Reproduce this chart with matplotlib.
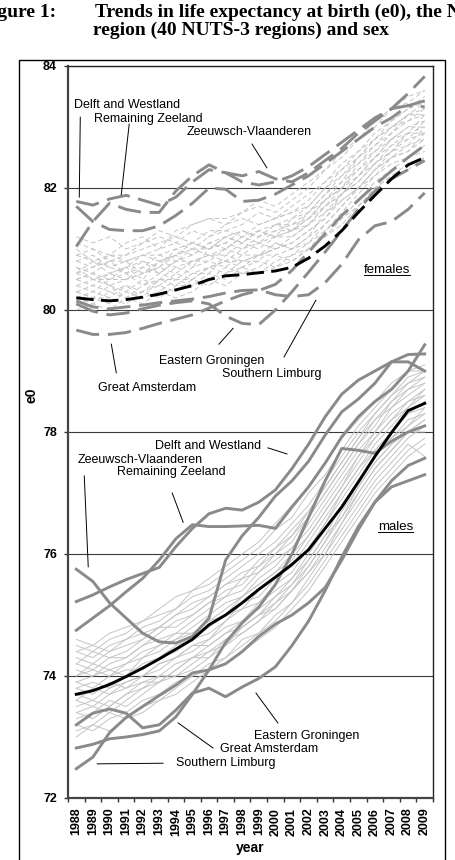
import matplotlib.pyplot as plt
import numpy as np
from matplotlib.patches import Rectangle
from matplotlib.lines import Line2D

plt.rcParams['font.family'] = ['Liberation Sans', 'DejaVu Sans']

years = [str(y) for y in range(1988, 2010)]

# e0 averages for the Netherlands
female_mean = [80.20, 80.17, 80.15, 80.17, 80.21, 80.26, 80.33, 80.40, 80.50, 80.56, 80.58,
               80.61, 80.64, 80.70, 80.85, 81.05, 81.30, 81.60, 81.88, 82.15, 82.38, 82.50]
male_mean = [73.70, 73.76, 73.86, 73.99, 74.13, 74.28, 74.44, 74.60, 74.84, 75.00, 75.20,
             75.42, 75.62, 75.83, 76.07, 76.42, 76.77, 77.18, 77.60, 77.99, 78.35, 78.47]

# highlighted regions, females
f_delft = [81.78, 81.72, 81.82, 81.88, 81.80, 81.72, 81.85, 82.10, 82.30, 82.25, 82.10,
           82.05, 82.10, 82.20, 82.35, 82.55, 82.75, 82.95, 83.15, 83.30, 83.35, 83.33]
f_rem_zeeland = [81.70, 81.45, 81.32, 81.30, 81.30, 81.38, 81.55, 81.75, 82.00, 81.98, 81.78,
                 81.80, 81.90, 82.05, 82.20, 82.40, 82.60, 82.80, 83.00, 83.15, 83.35, 83.43]
f_zv = [81.04, 81.45, 81.75, 81.65, 81.60, 81.60, 81.95, 82.20, 82.38, 82.25, 82.20,
        82.27, 82.15, 82.10, 82.25, 82.45, 82.65, 82.90, 83.10, 83.30, 83.55, 83.83]
f_east_gron = [80.10, 79.98, 79.92, 79.95, 80.02, 80.08, 80.12, 80.15, 80.10, 79.90, 79.78,
               79.76, 80.00, 80.30, 80.62, 80.95, 81.30, 81.65, 81.95, 82.15, 82.30, 82.45]
f_south_limb = [80.15, 80.05, 80.02, 80.05, 80.08, 80.12, 80.15, 80.18, 80.22, 80.28, 80.32,
                80.33, 80.25, 80.22, 80.25, 80.45, 80.75, 81.15, 81.38, 81.45, 81.65, 81.92]
f_great_ams = [79.67, 79.60, 79.60, 79.63, 79.70, 79.78, 79.85, 79.92, 80.03, 80.15, 80.25,
               80.32, 80.42, 80.65, 80.95, 81.25, 81.55, 81.80, 82.05, 82.28, 82.50, 82.70]

# highlighted regions, males
m_delft = [75.22, 75.33, 75.46, 75.58, 75.68, 75.78, 76.12, 76.42, 76.66, 76.75, 76.72,
           76.85, 77.05, 77.40, 77.80, 78.25, 78.62, 78.85, 79.00, 79.15, 79.27, 79.28]
m_rem_zeeland = [74.75, 74.95, 75.15, 75.38, 75.60, 75.90, 76.25, 76.48, 76.45, 76.45, 76.46,
                 76.47, 76.42, 76.77, 77.10, 77.49, 77.92, 78.25, 78.50, 78.70, 79.00, 79.43]
m_zv = [75.75, 75.55, 75.20, 74.95, 74.70, 74.56, 74.54, 74.65, 74.95, 75.90, 76.30,
        76.60, 76.95, 77.20, 77.52, 77.95, 78.33, 78.54, 78.80, 79.15, 79.15, 79.00]
m_east_gron = [73.20, 73.39, 73.46, 73.39, 73.15, 73.20, 73.44, 73.72, 73.80, 73.66, 73.82,
               73.96, 74.15, 74.50, 74.90, 75.40, 75.95, 76.45, 76.85, 77.10, 77.20, 77.30]
m_south_limb = [72.48, 72.67, 73.07, 73.32, 73.50, 73.68, 73.85, 74.05, 74.10, 74.20, 74.40,
                74.65, 74.85, 75.00, 75.20, 75.45, 75.90, 76.40, 76.85, 77.20, 77.45, 77.57]
m_great_ams = [72.82, 72.88, 72.97, 73.00, 73.04, 73.10, 73.33, 73.70, 74.10, 74.55, 74.87,
               75.13, 75.50, 76.00, 76.60, 77.20, 77.73, 77.70, 77.65, 77.85, 78.00, 78.10]

female_highlight = [f_delft, f_rem_zeeland, f_zv, f_east_gron, f_south_limb, f_great_ams]
male_highlight = [m_delft, m_rem_zeeland, m_zv, m_east_gron, m_south_limb, m_great_ams]

# remaining NUTS-3 regions (light grey)
female_other = [
    [80.9, 80.8, 80.7, 80.8, 80.9, 80.9, 81.0, 81.1, 81.0, 81.2, 81.3, 81.2, 81.4, 81.5, 81.6, 81.9, 82.2, 82.5, 82.8, 83.0, 83.2, 83.4],
    [80.5, 80.6, 80.4, 80.5, 80.6, 80.7, 80.6, 80.8, 80.9, 80.8, 81.0, 81.1, 81.0, 81.2, 81.4, 81.7, 81.9, 82.2, 82.5, 82.7, 82.9, 83.0],
    [80.3, 80.2, 80.4, 80.3, 80.5, 80.4, 80.6, 80.5, 80.7, 80.8, 80.7, 80.9, 81.0, 81.1, 81.3, 81.5, 81.9, 82.1, 82.4, 82.6, 82.8, 82.9],
    [81.1, 81.0, 80.9, 81.1, 81.2, 81.0, 81.3, 81.4, 81.5, 81.4, 81.6, 81.7, 81.6, 81.8, 82.0, 82.3, 82.5, 82.8, 83.0, 83.3, 83.4, 83.6],
    [80.7, 80.5, 80.6, 80.7, 80.5, 80.8, 80.9, 80.7, 81.0, 81.1, 81.0, 81.2, 81.3, 81.4, 81.5, 81.8, 82.1, 82.3, 82.6, 82.9, 83.1, 83.2],
    [80.2, 80.3, 80.2, 80.1, 80.3, 80.4, 80.3, 80.5, 80.4, 80.6, 80.7, 80.6, 80.8, 80.9, 81.0, 81.3, 81.6, 81.9, 82.2, 82.4, 82.5, 82.7],
    [80.6, 80.7, 80.8, 80.6, 80.7, 80.9, 80.8, 80.9, 81.1, 81.0, 81.2, 81.3, 81.2, 81.3, 81.6, 81.8, 82.0, 82.4, 82.6, 82.8, 83.0, 83.1],
    [80.4, 80.3, 80.5, 80.6, 80.4, 80.5, 80.7, 80.6, 80.6, 80.9, 80.8, 80.8, 81.1, 81.0, 81.2, 81.6, 81.8, 82.0, 82.3, 82.5, 82.7, 82.8],
    [81.0, 80.8, 80.9, 80.9, 81.1, 81.2, 81.1, 81.3, 81.2, 81.4, 81.5, 81.4, 81.5, 81.7, 81.9, 82.1, 82.4, 82.6, 82.9, 83.1, 83.3, 83.4],
    [80.8, 80.9, 80.7, 80.6, 80.8, 80.7, 81.0, 80.9, 81.1, 81.2, 81.1, 81.3, 81.2, 81.5, 81.7, 82.0, 82.2, 82.4, 82.7, 83.0, 83.2, 83.3],
    [80.3, 80.4, 80.3, 80.4, 80.2, 80.5, 80.4, 80.6, 80.7, 80.6, 80.8, 80.9, 80.9, 81.0, 81.1, 81.4, 81.7, 82.0, 82.3, 82.5, 82.6, 82.9],
    [80.6, 80.5, 80.5, 80.7, 80.8, 80.6, 80.8, 81.0, 80.9, 81.0, 81.2, 81.1, 81.3, 81.3, 81.5, 81.7, 82.0, 82.3, 82.5, 82.8, 83.0, 83.0],
    [80.1, 80.2, 80.1, 80.3, 80.2, 80.3, 80.5, 80.4, 80.6, 80.5, 80.7, 80.8, 80.7, 80.9, 81.1, 81.3, 81.5, 81.8, 82.1, 82.3, 82.5, 82.6],
    [80.9, 81.0, 80.8, 80.9, 81.0, 81.1, 81.2, 81.1, 81.3, 81.3, 81.4, 81.6, 81.5, 81.6, 81.8, 82.1, 82.3, 82.6, 82.8, 83.1, 83.3, 83.5],
    [80.5, 80.4, 80.6, 80.5, 80.6, 80.8, 80.7, 80.8, 80.8, 81.0, 80.9, 81.1, 81.2, 81.2, 81.4, 81.6, 81.9, 82.1, 82.4, 82.7, 82.8, 83.1],
    [80.7, 80.6, 80.8, 80.8, 80.6, 80.7, 80.9, 81.0, 81.0, 81.1, 81.3, 81.2, 81.4, 81.4, 81.6, 81.9, 82.1, 82.5, 82.7, 82.9, 83.2, 83.2],
    [80.4, 80.5, 80.4, 80.2, 80.4, 80.6, 80.5, 80.7, 80.8, 80.7, 80.9, 80.9, 81.0, 81.1, 81.3, 81.5, 81.8, 82.0, 82.3, 82.6, 82.7, 83.0],
    [80.2, 80.1, 80.3, 80.2, 80.3, 80.2, 80.4, 80.4, 80.5, 80.7, 80.6, 80.7, 80.9, 80.8, 81.0, 81.2, 81.5, 81.7, 82.0, 82.2, 82.4, 82.5],
    [81.2, 81.1, 81.2, 81.0, 81.1, 81.3, 81.2, 81.4, 81.5, 81.5, 81.6, 81.8, 81.7, 81.9, 82.1, 82.3, 82.6, 82.8, 83.1, 83.3, 83.5, 83.6],
    [80.6, 80.8, 80.6, 80.7, 80.9, 80.8, 80.9, 81.1, 81.0, 81.2, 81.1, 81.3, 81.4, 81.3, 81.5, 81.8, 82.0, 82.2, 82.5, 82.8, 82.9, 83.2],
    [80.3, 80.2, 80.2, 80.4, 80.3, 80.5, 80.5, 80.5, 80.7, 80.8, 80.8, 80.9, 81.1, 81.0, 81.2, 81.4, 81.7, 82.0, 82.2, 82.5, 82.6, 82.8],
    [80.8, 80.7, 80.9, 80.8, 80.9, 81.0, 81.1, 81.0, 81.2, 81.3, 81.2, 81.4, 81.5, 81.6, 81.7, 82.0, 82.3, 82.5, 82.8, 83.0, 83.1, 83.3],
    [80.5, 80.6, 80.5, 80.5, 80.7, 80.6, 80.8, 80.8, 80.9, 80.9, 81.1, 81.0, 81.2, 81.3, 81.4, 81.7, 81.9, 82.2, 82.4, 82.6, 82.9, 82.9],
    [80.0, 80.1, 80.0, 80.2, 80.1, 80.3, 80.2, 80.3, 80.5, 80.4, 80.6, 80.6, 80.7, 80.8, 81.0, 81.2, 81.4, 81.7, 82.0, 82.2, 82.3, 82.5],
]
male_other = [
    [74.4, 74.3, 74.5, 74.6, 74.8, 74.9, 75.1, 75.3, 75.4, 75.6, 75.8, 76.0, 76.2, 76.5, 76.8, 77.2, 77.6, 78.0, 78.3, 78.6, 78.9, 79.0],
    [74.0, 74.1, 74.0, 74.2, 74.4, 74.5, 74.6, 74.8, 75.0, 75.2, 75.3, 75.6, 75.8, 76.1, 76.4, 76.8, 77.2, 77.6, 78.0, 78.3, 78.5, 78.7],
    [73.6, 73.8, 73.7, 73.9, 74.0, 74.2, 74.3, 74.5, 74.6, 74.9, 75.1, 75.2, 75.5, 75.7, 76.1, 76.5, 76.9, 77.3, 77.7, 78.0, 78.3, 78.4],
    [74.2, 74.4, 74.3, 74.4, 74.6, 74.8, 74.8, 75.0, 75.2, 75.4, 75.5, 75.8, 76.0, 76.2, 76.6, 77.0, 77.4, 77.8, 78.1, 78.5, 78.7, 78.9],
    [73.3, 73.4, 73.6, 73.5, 73.7, 73.9, 74.0, 74.1, 74.3, 74.5, 74.7, 74.9, 75.1, 75.4, 75.7, 76.1, 76.5, 77.0, 77.4, 77.7, 78.0, 78.2],
    [73.9, 73.8, 74.0, 74.1, 74.1, 74.3, 74.5, 74.6, 74.8, 75.0, 75.1, 75.4, 75.6, 75.8, 76.2, 76.6, 77.0, 77.4, 77.8, 78.1, 78.4, 78.6],
    [74.5, 74.4, 74.6, 74.7, 74.9, 75.0, 75.1, 75.4, 75.5, 75.7, 75.9, 76.1, 76.4, 76.6, 77.0, 77.3, 77.7, 78.1, 78.4, 78.7, 79.0, 79.1],
    [73.5, 73.6, 73.5, 73.7, 73.9, 73.9, 74.1, 74.3, 74.4, 74.6, 74.8, 75.0, 75.2, 75.5, 75.8, 76.2, 76.7, 77.1, 77.5, 77.8, 78.1, 78.3],
    [74.1, 74.0, 74.2, 74.3, 74.5, 74.6, 74.7, 74.9, 75.1, 75.3, 75.4, 75.7, 75.9, 76.1, 76.5, 76.9, 77.3, 77.7, 78.0, 78.4, 78.6, 78.8],
    [73.1, 73.2, 73.4, 73.3, 73.5, 73.6, 73.8, 74.0, 74.1, 74.3, 74.5, 74.7, 74.9, 75.2, 75.5, 75.9, 76.3, 76.7, 77.1, 77.4, 77.7, 77.9],
    [73.8, 73.9, 73.8, 74.0, 74.2, 74.3, 74.4, 74.6, 74.7, 74.9, 75.2, 75.3, 75.6, 75.8, 76.1, 76.5, 77.0, 77.4, 77.7, 78.0, 78.3, 78.5],
    [74.3, 74.2, 74.4, 74.5, 74.6, 74.8, 75.0, 75.1, 75.3, 75.5, 75.6, 75.9, 76.1, 76.3, 76.7, 77.1, 77.5, 77.9, 78.2, 78.5, 78.8, 78.9],
    [73.4, 73.5, 73.4, 73.6, 73.8, 74.0, 74.0, 74.2, 74.4, 74.5, 74.8, 75.0, 75.1, 75.4, 75.7, 76.0, 76.5, 76.9, 77.3, 77.6, 77.9, 78.1],
    [74.0, 74.2, 74.1, 74.2, 74.3, 74.5, 74.7, 74.7, 74.9, 75.1, 75.3, 75.5, 75.7, 76.0, 76.3, 76.7, 77.1, 77.5, 77.9, 78.2, 78.5, 78.6],
    [73.7, 73.6, 73.8, 73.9, 74.0, 74.1, 74.3, 74.4, 74.6, 74.8, 74.9, 75.2, 75.4, 75.6, 76.0, 76.4, 76.8, 77.2, 77.6, 77.9, 78.2, 78.3],
    [73.2, 73.1, 73.3, 73.4, 73.6, 73.7, 73.9, 74.0, 74.2, 74.3, 74.6, 74.7, 75.0, 75.2, 75.6, 76.0, 76.4, 76.8, 77.2, 77.5, 77.8, 77.6],
    [74.4, 74.5, 74.4, 74.6, 74.7, 74.8, 75.0, 75.2, 75.3, 75.5, 75.7, 75.8, 76.1, 76.4, 76.7, 77.1, 77.5, 77.9, 78.3, 78.6, 78.8, 79.0],
    [73.8, 73.7, 73.9, 73.8, 74.0, 74.2, 74.3, 74.5, 74.5, 74.7, 74.9, 75.1, 75.3, 75.6, 75.9, 76.3, 76.8, 77.2, 77.6, 77.9, 78.1, 78.4],
    [73.6, 73.5, 73.7, 73.8, 73.9, 74.0, 74.2, 74.3, 74.5, 74.7, 74.8, 75.0, 75.3, 75.5, 75.9, 76.3, 76.6, 77.1, 77.5, 77.8, 78.0, 78.2],
    [74.2, 74.1, 74.3, 74.3, 74.5, 74.7, 74.9, 75.0, 75.2, 75.3, 75.6, 75.7, 76.0, 76.3, 76.6, 77.0, 77.4, 77.8, 78.2, 78.4, 78.7, 78.8],
    [73.9, 74.0, 74.1, 74.0, 74.3, 74.4, 74.6, 74.7, 74.9, 75.0, 75.3, 75.5, 75.7, 75.9, 76.3, 76.7, 77.1, 77.6, 77.9, 78.2, 78.4, 78.7],
    [73.4, 73.3, 73.5, 73.7, 73.8, 73.9, 74.1, 74.3, 74.3, 74.6, 74.7, 74.9, 75.2, 75.4, 75.8, 76.2, 76.6, 77.0, 77.4, 77.7, 78.0, 78.0],
    [74.6, 74.5, 74.7, 74.8, 74.9, 75.1, 75.3, 75.4, 75.6, 75.8, 76.0, 76.2, 76.5, 76.8, 77.1, 77.5, 77.9, 78.2, 78.5, 78.8, 79.0, 79.0],
    [73.0, 73.2, 73.1, 73.3, 73.4, 73.6, 73.7, 73.9, 74.1, 74.2, 74.4, 74.6, 74.8, 75.1, 75.4, 75.8, 76.2, 76.6, 77.0, 77.3, 77.6, 77.8],
]

# region labels: text, (x in year index, y in e0), pointer start, pointer end
labels = ['Delft and Westland', 'Remaining Zeeland', 'Zeeuwsch-Vlaanderen',
          'Eastern Groningen', 'Southern Limburg', 'Great Amsterdam',
          'Delft and Westland', 'Zeeuwsch-Vlaanderen', 'Remaining Zeeland',
          'Eastern Groningen', 'Great Amsterdam', 'Southern Limburg']
label_pos = [(-0.12, 83.36), (1.08, 83.13), (6.62, 82.92),
             (4.99, 79.16), (8.78, 78.95), (1.32, 78.72),
             (4.75, 77.77), (0.06, 77.54), (2.47, 77.34),
             (10.71, 73.02), (8.66, 72.80), (6.02, 72.57)]
pointers = [((0.24, 83.16), (0.18, 81.85)), ((3.19, 83.05), (2.71, 81.89)),
            ((10.59, 82.72), (11.49, 82.33)), ((8.60, 79.44), (9.45, 79.70)),
            ((12.52, 79.23), (14.44, 80.16)), ((2.11, 79.44), (2.41, 78.97)),
            ((11.55, 77.74), (12.70, 77.64)), ((0.48, 77.28), (0.72, 75.79)),
            ((5.78, 77.00), (6.44, 76.52)), ((10.83, 73.72), (12.15, 73.23)),
            ((6.14, 73.23), (8.24, 72.82)), ((1.26, 72.56), (5.23, 72.57))]

W, H = 456, 860
fig = plt.figure(figsize=(W / 100, H / 100), dpi=100)
ax = fig.add_axes([68 / W, 62 / H, 365 / W, 732 / H])
x = np.arange(len(years))

light = '#c4c4c4'
dark = '#8a8a8a'
for vals in female_other:
    ax.plot(x, vals, color=light, lw=0.7, dashes=(5, 3), zorder=2)
for vals in male_other:
    ax.plot(x, vals, color=light, lw=0.7, zorder=2)
for vals in female_highlight:
    ax.plot(x, vals, color=dark, lw=2.1, dashes=(8, 3), zorder=3)
for vals in male_highlight:
    ax.plot(x, vals, color=dark, lw=2.1, zorder=3)
ax.plot(x, female_mean, color='black', lw=2.1, dashes=(6, 2.5), zorder=4)
ax.plot(x, male_mean, color='black', lw=2.1, zorder=4)

for txt, (tx, ty), (p0, p1) in zip(labels, label_pos, pointers):
    ax.text(tx, ty, txt, fontsize=9, ha='left', va='center', zorder=5)
    ax.plot([p0[0], p1[0]], [p0[1], p1[1]], color='black', lw=0.7, zorder=5)

sex_labels = [ax.text(17.33, 80.66, 'females', fontsize=9.5, ha='left', va='center'),
              ax.text(18.17, 76.44, 'males', fontsize=9.5, ha='left', va='center')]

ax.set_xlim(-0.5, len(years) - 0.5)
ax.set_ylim(72, 84)
ax.set_yticks(range(72, 85, 2))
ax.set_yticklabels([str(v) for v in range(72, 85, 2)], fontweight='bold', fontsize=9)
ax.yaxis.grid(True, color='#3a3a3a', lw=0.8)
ax.set_axisbelow(True)
ax.set_xticks(x)
ax.set_xticklabels(years, rotation=90, fontweight='bold', fontsize=9)
ax.set_xticks(np.arange(-0.5, len(years), 1), minor=True)
ax.tick_params(axis='x', which='major', length=0, pad=7)
ax.tick_params(axis='x', which='minor', length=3, width=1, color='#333333')
ax.tick_params(axis='y', length=3, width=1, pad=5, color='#333333')
for side in ['left', 'bottom']:
    ax.spines[side].set_linewidth(1.6)
    ax.spines[side].set_color('#444444')
for side in ['top', 'right']:
    ax.spines[side].set_linewidth(1.0)
    ax.spines[side].set_color('#222222')

ax.set_xlabel('year', fontweight='bold', fontsize=10, labelpad=4)
ax.set_ylabel('e0', fontweight='bold', fontsize=10)
ax.yaxis.set_label_coords(-0.082, 0.55)

# outer chart frame
fig.patches.append(Rectangle((19 / W, -0.01), 426 / W, 800 / H + 0.01,
                             transform=fig.transFigure, fill=False,
                             edgecolor='black', lw=1.0))

serif = ['Liberation Serif', 'DejaVu Serif']
fig.text(56 / W, 1 - 17 / H, 'Figure 1:', family=serif, fontweight='bold',
         fontsize=14, ha='right', va='baseline')
fig.text(95 / W, 1 - 17 / H, 'Trends in life expectancy at birth (e0), the Netherlands, by',
         family=serif, fontweight='bold', fontsize=14, ha='left', va='baseline')
fig.text(93 / W, 1 - 35 / H, 'region (40 NUTS-3 regions) and sex',
         family=serif, fontweight='bold', fontsize=14, ha='left', va='baseline')

# underline the sex labels
fig.canvas.draw()
for t in sex_labels:
    bb = t.get_window_extent().transformed(fig.transFigure.inverted())
    yline = bb.y0 + 0.1 * (bb.y1 - bb.y0)
    fig.lines.append(Line2D([bb.x0, bb.x1], [yline, yline], transform=fig.transFigure,
                            color='black', lw=0.7))

fig.savefig('out.png', dpi=100)
